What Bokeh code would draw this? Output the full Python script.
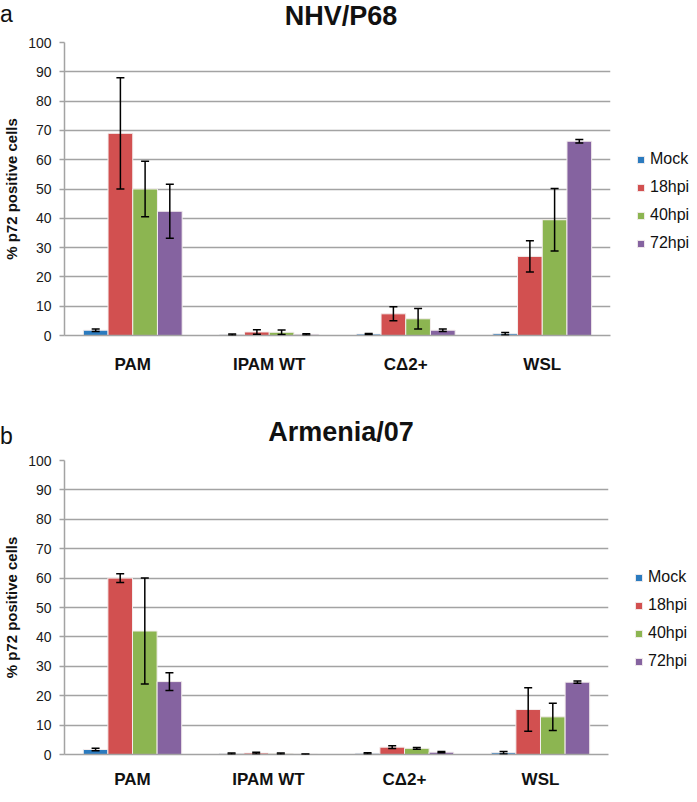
from bokeh.plotting import figure
from bokeh.models import (ColumnDataSource, FactorRange, Range1d, Whisker, Legend,
                          LegendItem, FixedTicker, TeeHead, Div)
from bokeh.transform import dodge
from bokeh.layouts import column
from bokeh.embed import file_html
from bokeh.resources import INLINE

# ---------------- data ----------------
categories = ["PAM", "IPAM WT", "C\u03942+", "WSL"]
series = ["Mock", "18hpi", "40hpi", "72hpi"]
colors = ["#2B7BBF", "#D25050", "#8CB551", "#8563A0"]
y_ticks = [0, 10, 20, 30, 40, 50, 60, 70, 80, 90, 100]

# panel a: NHV/P68
a_mock = [1.8, 0.3, 0.5, 0.6]
a_mock_err = [0.4, 0.2, 0.2, 0.4]
a_18 = [69.0, 1.2, 7.4, 27.0]
a_18_err = [19.0, 0.8, 2.4, 5.3]
a_40 = [50.0, 1.1, 5.7, 39.5]
a_40_err = [9.5, 0.8, 3.5, 10.7]
a_72 = [42.4, 0.4, 1.8, 66.3]
a_72_err = [9.2, 0.2, 0.4, 0.6]

# panel b: Armenia/07
b_mock = [1.7, 0.3, 0.4, 0.6]
b_mock_err = [0.4, 0.2, 0.2, 0.4]
b_18 = [60.0, 0.5, 2.5, 15.3]
b_18_err = [1.5, 0.3, 0.5, 7.4]
b_40 = [42.0, 0.3, 2.1, 12.8]
b_40_err = [18.0, 0.2, 0.3, 4.6]
b_72 = [24.8, 0.1, 0.8, 24.6]
b_72_err = [3.0, 0.1, 0.2, 0.4]

FONT = "Liberation Sans"
GRID = "#A3A3A3"
TOTAL_W = 681
BAR_W = 0.181


def header(letter, title, height, title_base, letter_base):
    t_top = title_base - 0.8465 * 27
    l_top = letter_base - 0.8465 * 23
    html = (
        f'<div style="position:relative;width:{TOTAL_W}px;height:{height}px;">'
        f'<span style="position:absolute;left:0px;top:{l_top:.1f}px;'
        f"font-family:'{FONT}';font-size:23px;line-height:23px;color:#111;\">{letter}</span>"
        f'<span style="position:absolute;left:341px;top:{t_top:.1f}px;transform:translateX(-50%);'
        f"white-space:nowrap;font-family:'{FONT}';font-size:27px;line-height:27px;"
        f'font-weight:bold;color:#111;">{title}</span></div>'
    )
    return Div(text=html, width=TOTAL_W, height=height, margin=0,
               styles={"overflow": "visible"})


def make_panel(vals, errs, frame_w, frame_h, left, top, bottom, legend_vy, cat_standoff):
    p = figure(x_range=FactorRange(*categories), y_range=Range1d(0, 100),
               frame_width=frame_w, frame_height=frame_h,
               min_border_left=left, min_border_top=top, min_border_bottom=bottom,
               min_border_right=TOTAL_W - left - frame_w,
               output_backend="svg", toolbar_location=None, tools="")
    p.outline_line_color = None
    p.background_fill_color = "white"
    p.border_fill_color = "white"

    items = []
    for i, (s, c) in enumerate(zip(series, colors)):
        v = vals[i]
        e = errs[i]
        src = ColumnDataSource(dict(cat=categories, top=v,
                                    upper=[a + b for a, b in zip(v, e)],
                                    lower=[a - b for a, b in zip(v, e)]))
        off = (i - 1.5) * BAR_W
        r = p.vbar(x=dodge("cat", off, range=p.x_range), top="top", width=BAR_W,
                   source=src, fill_color=c, line_color="#F4EEEE", line_width=1)
        items.append(LegendItem(label=s, renderers=[r]))
        w = Whisker(base=dodge("cat", off, range=p.x_range), upper="upper", lower="lower",
                    source=src, line_color="black", line_width=1.5, level="annotation",
                    upper_head=TeeHead(size=8, line_color="black", line_width=1.5),
                    lower_head=TeeHead(size=8, line_color="black", line_width=1.5))
        p.add_layout(w)

    # y axis
    p.yaxis.ticker = FixedTicker(ticks=y_ticks)
    p.yaxis.axis_label = "% p72 positive cells"
    p.yaxis.axis_label_text_font = FONT
    p.yaxis.axis_label_text_font_size = "15px"
    p.yaxis.axis_label_text_font_style = "bold"
    p.yaxis.axis_label_text_color = "#111111"
    p.yaxis.axis_label_standoff = 5
    p.yaxis.major_label_text_font = FONT
    p.yaxis.major_label_text_font_size = "14px"
    p.yaxis.major_label_text_color = "#1A1A1A"
    p.yaxis.major_label_standoff = 8
    p.yaxis.axis_line_color = GRID
    p.yaxis.axis_line_width = 1.5
    p.yaxis.major_tick_line_color = GRID
    p.yaxis.major_tick_line_width = 1.5
    p.yaxis.major_tick_in = 0
    p.yaxis.major_tick_out = 5
    p.yaxis.minor_tick_line_color = None

    # x axis
    p.xaxis.major_label_text_font = FONT
    p.xaxis.major_label_text_font_size = "17px"
    p.xaxis.major_label_text_font_style = "bold"
    p.xaxis.major_label_text_color = "#111111"
    p.xaxis.major_label_standoff = cat_standoff
    p.xaxis.axis_line_color = GRID
    p.xaxis.axis_line_width = 1.5
    p.xaxis.major_tick_line_color = None
    p.xaxis.minor_tick_line_color = None

    p.xgrid.grid_line_color = None
    p.ygrid.grid_line_color = GRID
    p.ygrid.grid_line_width = 1.5

    legend = Legend(items=items, location=(26, legend_vy), orientation="vertical",
                    glyph_width=9, glyph_height=9, label_standoff=5,
                    label_text_font=FONT, label_text_font_size="16px",
                    label_text_color="#111111", label_height=20, spacing=8,
                    padding=0, margin=0, border_line_color=None,
                    background_fill_alpha=0)
    p.add_layout(legend, "right")
    return p


vals_a = [a_mock, a_18, a_40, a_72]
errs_a = [a_mock_err, a_18_err, a_40_err, a_72_err]
vals_b = [b_mock, b_18, b_40, b_72]
errs_b = [b_mock_err, b_18_err, b_40_err, b_72_err]

ha = header("a", "NHV/P68", 32, title_base=26, letter_base=22)
pa = make_panel(vals_a, errs_a, frame_w=546, frame_h=293,
                left=59, top=10, bottom=84, legend_vy=82, cat_standoff=13)
hb = header("b", "Armenia/07", 31, title_base=23, letter_base=25)
pb = make_panel(vals_b, errs_b, frame_w=544, frame_h=294,
                left=63, top=10, bottom=30, legend_vy=83, cat_standoff=9)

layout = column(ha, pa, hb, pb, spacing=0)
open("out.html", "w").write(file_html(layout, INLINE))
